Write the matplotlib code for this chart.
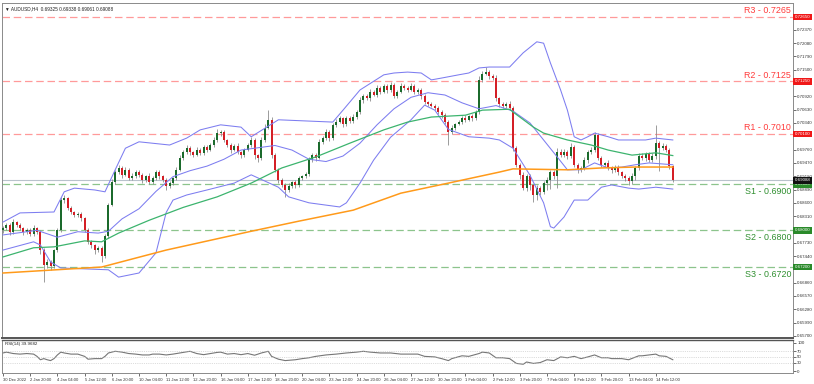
import numpy as np
import pandas as pd
import matplotlib
matplotlib.use("Agg")
import matplotlib.pyplot as plt

plt.rcParams['font.family'] = ['Liberation Sans', 'DejaVu Sans']

# AUDUSD H4 candles (close of each bar, wicks in pips)
first_open = 0.6800
closes = [
    0.6805, 0.6812, 0.6796, 0.6818, 0.6812, 0.6805, 0.6796, 0.6801, 0.6792, 0.6805,
    0.6796, 0.6757, 0.6724, 0.6731, 0.6722, 0.6757, 0.6801, 0.6866, 0.6870, 0.6849,
    0.6840, 0.6833, 0.6836, 0.6827, 0.6801, 0.6775, 0.6768, 0.6757, 0.6761, 0.6744,
    0.6788, 0.6855, 0.6905, 0.6927, 0.6936, 0.6921, 0.6932, 0.6914, 0.6918, 0.6927,
    0.6921, 0.6910, 0.6918, 0.6905, 0.6914, 0.6927, 0.6918, 0.6910, 0.6897, 0.6903,
    0.6914, 0.6932, 0.6958, 0.6971, 0.6979, 0.6971, 0.6964, 0.6975, 0.6969, 0.6982,
    0.6975, 0.6986, 0.6997, 0.7012, 0.7014, 0.6997, 0.6986, 0.6975, 0.6984, 0.6971,
    0.6964, 0.6975, 0.6986, 0.6997, 0.6964, 0.6958, 0.6997, 0.7023, 0.7041, 0.6964,
    0.6932, 0.6910, 0.6899, 0.6888, 0.6897, 0.6905, 0.6899, 0.6914, 0.6918, 0.6923,
    0.6953, 0.6964, 0.6958, 0.6993, 0.7001, 0.7014, 0.7001, 0.7030, 0.7036, 0.7045,
    0.7032, 0.7045, 0.7038, 0.7047, 0.7058, 0.7084, 0.7093, 0.7088, 0.7102, 0.7095,
    0.7110, 0.7102, 0.7115, 0.7106, 0.7117, 0.7093, 0.7102, 0.7115, 0.7110, 0.7106,
    0.7115, 0.7102, 0.7106, 0.7093, 0.7080, 0.7075, 0.7071, 0.7067, 0.7058, 0.7051,
    0.7036, 0.7014, 0.7023, 0.7032, 0.7036, 0.7045, 0.7041, 0.7049, 0.7045, 0.7058,
    0.7128, 0.7141, 0.7145, 0.7136, 0.7132, 0.7088, 0.7075, 0.7071, 0.7075, 0.7067,
    0.6979, 0.6943, 0.6921, 0.6892, 0.6918, 0.6899, 0.6877, 0.6892, 0.6884, 0.6903,
    0.6910, 0.6927, 0.6918, 0.6971, 0.6964, 0.6971, 0.6962, 0.6982, 0.6943, 0.6932,
    0.6936, 0.6953, 0.6971, 0.6975, 0.7008, 0.6958, 0.6943, 0.6947, 0.6936, 0.6932,
    0.6938, 0.6927, 0.6918, 0.6914, 0.6908, 0.6918, 0.6936, 0.6962, 0.6958, 0.6966,
    0.6953, 0.6962, 0.6990, 0.6979, 0.6984, 0.6975, 0.6940, 0.69088,
]
wick_up = [
    4, 3, 5, 6, 3, 4, 3, 5, 4, 6,
    3, 4, 5, 6, 4, 3, 5, 6, 8, 3,
    4, 3, 5, 4, 3, 4, 5, 3, 4, 5,
    4, 5, 6, 5, 7, 4, 5, 3, 6, 4,
    5, 4, 3, 6, 4, 5, 4, 3, 5, 4,
    3, 5, 6, 4, 7, 5, 3, 6, 4, 5,
    4, 5, 6, 8, 5, 4, 3, 5, 4, 6,
    3, 5, 4, 6, 4, 3, 6, 8, 21, 5,
    4, 3, 5, 4, 6, 3, 4, 5, 3, 4,
    6, 5, 4, 7, 5, 6, 4, 5, 6, 4,
    3, 5, 4, 6, 5, 7, 4, 5, 6, 4,
    6, 4, 5, 3, 7, 4, 5, 6, 4, 5,
    6, 3, 4, 5, 4, 3, 5, 4, 3, 4,
    5, 4, 6, 3, 5, 4, 6, 3, 4, 5,
    8, 6, 12, 5, 4, 6, 3, 5, 4, 6,
    4, 5, 3, 6, 4, 5, 3, 6, 4, 5,
    6, 4, 5, 8, 6, 7, 5, 9, 4, 3,
    5, 6, 4, 7, 6, 5, 4, 3, 6, 4,
    5, 4, 3, 5, 4, 6, 5, 7, 6, 5,
    4, 6, 40, 5, 6, 4, 5, 3,
]
wick_dn = [
    5, 4, 6, 3, 5, 4, 6, 3, 5, 4,
    5, 8, 36, 6, 8, 5, 4, 5, 6, 4,
    5, 4, 3, 6, 5, 4, 6, 8, 5, 12,
    5, 4, 3, 5, 4, 6, 3, 5, 4, 3,
    5, 6, 4, 5, 3, 4, 6, 5, 10, 4,
    5, 4, 3, 5, 4, 6, 5, 3, 4, 5,
    4, 3, 5, 4, 6, 5, 4, 6, 3, 5,
    6, 4, 3, 5, 8, 10, 4, 5, 3, 6,
    5, 6, 4, 15, 5, 4, 6, 5, 4, 3,
    5, 4, 6, 3, 5, 4, 6, 5, 4, 3,
    6, 4, 5, 3, 4, 5, 6, 4, 5, 3,
    4, 5, 3, 6, 4, 5, 4, 3, 5, 4,
    3, 5, 4, 6, 5, 4, 3, 5, 4, 6,
    5, 28, 4, 5, 3, 4, 5, 3, 6, 5,
    4, 5, 3, 6, 4, 5, 6, 4, 5, 4,
    5, 6, 8, 5, 6, 10, 15, 10, 6, 5,
    15, 20, 6, 25, 5, 4, 6, 5, 4, 6,
    5, 4, 6, 5, 4, 5, 6, 4, 5, 6,
    5, 6, 4, 7, 10, 6, 8, 5, 4, 6,
    5, 4, 6, 50, 4, 5, 6, 4,
]

# indicator lines read at selected bars
upper_bar = [0, 5, 15, 18, 21, 27, 30, 33, 36, 40, 49, 54, 58, 64, 70, 73, 81, 97, 100, 105,
             112, 115, 119, 123, 126, 129, 134, 137, 140, 143, 149, 153, 157, 159, 161, 164,
             166, 168, 170, 172, 174, 178, 181, 189, 192, 197]
upper_val = [0.6818, 0.6838, 0.6840, 0.6884, 0.6892, 0.6888, 0.6884, 0.6932, 0.6979, 0.6993,
             0.6986, 0.7001, 0.7019, 0.7030, 0.7025, 0.7004, 0.7041, 0.7036, 0.7062, 0.7106,
             0.7139, 0.7143, 0.7145, 0.7143, 0.7128, 0.7132, 0.7139, 0.7143, 0.7154, 0.7156,
             0.7156, 0.7187, 0.7211, 0.7208, 0.7165, 0.7106, 0.7062, 0.7004, 0.6997, 0.7004,
             0.7012, 0.7004, 0.6997, 0.6997, 0.7001, 0.6997]
middle_bar = [0, 10, 16, 22, 28, 31, 35, 40, 45, 50, 55, 60, 65, 70, 75, 80, 85, 90, 95, 100,
              105, 110, 115, 120, 125, 130, 135, 140, 145, 150, 155, 159, 163, 166, 170, 174,
              178, 182, 186, 190, 197]
middle_val = [0.6790, 0.6800, 0.6785, 0.6797, 0.6794, 0.6798, 0.6825, 0.6847, 0.6885, 0.6917,
              0.6930, 0.6940, 0.6955, 0.6975, 0.6980, 0.6985, 0.6975, 0.6955, 0.6950, 0.6962,
              0.6990, 0.7030, 0.7065, 0.7090, 0.7100, 0.7095, 0.7078, 0.7065, 0.7072, 0.7060,
              0.7034, 0.6997, 0.6960, 0.6932, 0.6932, 0.6947, 0.6936, 0.6938, 0.6943, 0.6947,
              0.6943]
lower_bar = [0, 9, 11, 14, 17, 31, 34, 40, 45, 48, 50, 54, 60, 68, 73, 81, 84, 90, 99, 101,
             105, 109, 114, 120, 124, 127, 131, 137, 143, 146, 150, 155, 159, 161, 162, 165,
             168, 172, 176, 179, 184, 187, 192, 197]
lower_val = [0.6757, 0.6775, 0.6768, 0.6731, 0.6718, 0.6714, 0.6698, 0.6707, 0.6751, 0.6839,
             0.6866, 0.6877, 0.6888, 0.6903, 0.6921, 0.6894, 0.6873, 0.6860, 0.6851, 0.6860,
             0.6903, 0.6953, 0.7003, 0.7041, 0.7073, 0.7062, 0.7020, 0.7004, 0.7001, 0.6997,
             0.6979, 0.6920, 0.6860, 0.6808, 0.6805, 0.6829, 0.6866, 0.6866, 0.6894, 0.6899,
             0.6892, 0.6890, 0.6894, 0.6890]
green_bar = [0, 9, 15, 24, 29, 34, 43, 53, 63, 73, 82, 92, 102, 112, 119, 126, 136, 141, 149,
             150, 156, 159, 166, 173, 178, 185, 192, 197]
green_val = [0.6742, 0.6762, 0.6764, 0.6777, 0.6775, 0.6794, 0.6822, 0.6850, 0.6873, 0.6903,
             0.6936, 0.6960, 0.6990, 0.7019, 0.7036, 0.7047, 0.7051, 0.7062, 0.7064, 0.7058,
             0.7025, 0.7012, 0.6997, 0.6986, 0.6975, 0.6964, 0.6969, 0.6963]
orange_bar = [0, 29, 48, 73, 87, 103, 117, 131, 146, 150, 166, 176, 186, 197]
orange_val = [0.6707, 0.6720, 0.6757, 0.6798, 0.6820, 0.6844, 0.6881, 0.6903, 0.6927, 0.6934,
              0.6932, 0.6936, 0.6938, 0.6938]

rsi_bar = [0, 1, 3, 5, 7, 9, 10, 11, 12, 13, 14, 15, 16, 17, 18, 20, 22, 24, 25, 27, 29, 30,
           31, 33, 35, 37, 39, 41, 43, 44, 46, 48, 50, 53, 55, 57, 59, 61, 63, 64, 66, 68, 70,
           72, 74, 76, 78, 79, 81, 83, 86, 88, 90, 92, 95, 98, 101, 104, 106, 108, 111, 114,
           117, 120, 122, 124, 127, 129, 131, 132, 135, 137, 140, 141, 143, 145, 147, 149,
           151, 153, 154, 156, 158, 160, 162, 164, 166, 168, 170, 172, 174, 176, 178, 179,
           182, 184, 187, 188, 190, 192, 193, 195, 197]
rsi_val = [64, 67, 62, 60, 62, 60, 52, 40, 44, 40, 37, 44, 57, 67, 64, 60, 60, 52, 42, 44, 44, 52,
           64, 70, 67, 62, 60, 57, 57, 60, 60, 57, 60, 66, 70, 62, 58, 62, 66, 67, 60, 62, 58,
           62, 56, 64, 70, 52, 42, 37, 40, 44, 47, 52, 57, 60, 64, 67, 70, 67, 64, 64,
           60, 60, 60, 52, 50, 44, 37, 44, 54, 52, 62, 67, 64, 47, 47, 44,
           27, 24, 32, 27, 30, 40, 37, 50, 47, 52, 44, 50, 57, 47, 47, 44,
           44, 40, 54, 54, 57, 60, 54, 52, 40]

res_names = ['R3', 'R2', 'R1']
res_levels = [0.7265, 0.7125, 0.7010]
sup_names = ['S1', 'S2', 'S3']
sup_levels = [0.6900, 0.6800, 0.6720]
last_price = 0.69088

price_ticks = [0.72370, 0.72080, 0.71790, 0.71500, 0.71210, 0.70920, 0.70630, 0.70340,
               0.70050, 0.69760, 0.69470, 0.69180, 0.68890, 0.68600, 0.68310, 0.68020,
               0.67730, 0.67440, 0.67150, 0.66860, 0.66570, 0.66280, 0.65990, 0.65700]
date_labels = ['30 Dec 2022', '2 Jan 20:00', '4 Jan 04:00', '5 Jan 12:00', '6 Jan 20:00',
               '10 Jan 04:00', '11 Jan 12:00', '12 Jan 20:00', '16 Jan 04:00', '17 Jan 12:00',
               '18 Jan 20:00', '20 Jan 04:00', '23 Jan 12:00', '24 Jan 20:00', '26 Jan 04:00',
               '27 Jan 12:00', '30 Jan 20:00', '1 Feb 04:00', '2 Feb 12:00', '3 Feb 20:00',
               '7 Feb 04:00', '8 Feb 12:00', '9 Feb 20:00', '13 Feb 04:00', '14 Feb 12:00']

# ---- figure layout (pixel based, 814x384) ----
W, H = 814, 384
fig = plt.figure(figsize=(W / 100, H / 100), dpi=100)
ax = fig.add_axes([2 / W, 1 - 338 / H, 791 / W, 335 / H])
rx = fig.add_axes([2 / W, 1 - 373 / H, 791 / W, 33 / H])

xmin = -1 / 3.4
xmax = xmin + 791 / 3.4
for a in (ax, rx):
    a.set_xlim(xmin, xmax)
    for s in a.spines.values():
        s.set_color('#8a8a8a')
        s.set_linewidth(0.7)
ax.spines['bottom'].set_color('#555555')
ax.spines['bottom'].set_linewidth(1.4)
rx.spines['top'].set_color('#555555')
rx.spines['top'].set_linewidth(1.0)
ax.set_ylim(0.65653, 0.72956)

# candles
df = pd.DataFrame({'close': closes, 'up': wick_up, 'dn': wick_dn})
df['open'] = [first_open] + closes[:-1]
df['high'] = df[['open', 'close']].max(axis=1) + df['up'] * 0.0001
df['low'] = df[['open', 'close']].min(axis=1) - df['dn'] * 0.0001
idx = np.arange(len(df))
bull = (df['close'] >= df['open']).values
ax.vlines(idx, df['low'], df['high'], color='#8c8c8c', lw=0.6, zorder=3)
body_lo = df[['open', 'close']].min(axis=1)
body_h = (df['close'] - df['open']).abs().clip(lower=0.00006)
ax.bar(idx, body_h, bottom=body_lo, width=0.62,
       color=np.where(bull, '#1b6a2c', '#d41f26'), linewidth=0, zorder=4)

# indicators
band_col = '#7d7df0'
ax.plot(upper_bar, upper_val, color=band_col, lw=0.75, zorder=5)
ax.plot(middle_bar, middle_val, color=band_col, lw=0.75, zorder=5)
ax.plot(lower_bar, lower_val, color=band_col, lw=0.75, zorder=5)
ax.plot(green_bar, green_val, color='#3cb46e', lw=0.9, zorder=5)
ax.plot(orange_bar, orange_val, color='#ff9a1a', lw=1.1, zorder=5)

# levels
ax.axhline(last_price, color='#b9c3cc', lw=0.8, zorder=2)
for name, lvl in zip(res_names, res_levels):
    ax.axhline(lvl, color='#ff9a9a', lw=0.9, ls=(0, (6, 3)), zorder=2)
    ax.annotate(f'{name} - {lvl:.4f}', xy=(0.9975, lvl), xycoords=('axes fraction', 'data'),
                xytext=(0, 1.2), textcoords='offset points', ha='right', va='bottom',
                fontsize=6.4, color='#ff3b3b')
for name, lvl in zip(sup_names, sup_levels):
    ax.axhline(lvl, color='#8cc48c', lw=0.9, ls=(0, (6, 3)), zorder=2)
    ax.annotate(f'{name} - {lvl:.4f}', xy=(0.9975, lvl), xycoords=('axes fraction', 'data'),
                xytext=(0, -2.0), textcoords='offset points', ha='right', va='top',
                fontsize=6.4, color='#2f8f2f')

# right price axis (ticks hidden where a price box sits)
box_levels = res_levels + sup_levels + [last_price]
shown_ticks = [t for t in price_ticks if min(abs(t - b) for b in box_levels) > 0.0008]
ax.yaxis.tick_right()
ax.set_yticks(shown_ticks)
ax.set_yticklabels([f'{t:.5f}' for t in shown_ticks])
ax.tick_params(axis='y', labelsize=3.2, length=2, width=0.5, pad=1, colors='#333333')
ax.tick_params(axis='x', bottom=False, labelbottom=False)


def price_box(y, txt, fc):
    ax.annotate(txt, xy=(1, y), xycoords=('axes fraction', 'data'), xytext=(1.2, 0),
                textcoords='offset points', fontsize=3.2, color='white', ha='left',
                va='center', annotation_clip=False, zorder=10,
                bbox=dict(boxstyle='square,pad=0.3', fc=fc, ec='none'))


for lvl in res_levels:
    price_box(lvl, f'{lvl:.5f}', '#f01818')
for lvl in sup_levels:
    price_box(lvl, f'{lvl:.5f}', '#2a8a2a')
price_box(last_price, f'{last_price:.5f}', '#111111')

ax.text(0.004, 0.99, '\u25bc AUDUSD,H4  0.69325 0.69338 0.69061 0.69088', transform=ax.transAxes,
        fontsize=3.4, va='top', ha='left', color='#222222')

# RSI panel
rx.plot(rsi_bar, rsi_val, color='#767676', lw=0.8)
for lv in (30, 50, 70):
    rx.axhline(lv, color='#bdbdbd', lw=0.5, ls=':')
rx.set_ylim(-7, 110)
rx.yaxis.tick_right()
rx.set_yticks([0, 30, 50, 70, 100])
rx.tick_params(axis='y', labelsize=3.2, length=2, width=0.5, pad=1, colors='#333333')
rx.text(0.004, 0.95, 'RSI(14) 39.9682', transform=rx.transAxes, fontsize=3.2,
        va='top', ha='left', color='#222222')
tick_pos = np.arange(len(date_labels)) * 8
rx.set_xticks(tick_pos)
rx.set_xticklabels(date_labels, ha='left')
rx.tick_params(axis='x', labelsize=3.0, length=2, width=0.5, pad=1.5, colors='#333333')

fig.savefig('out.png', dpi=100)
